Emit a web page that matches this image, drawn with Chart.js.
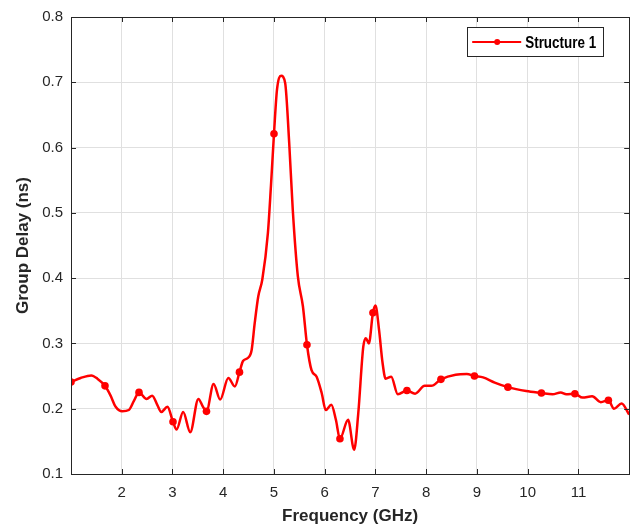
<!DOCTYPE html>
<html>
<head>
<meta charset="utf-8">
<script src="https://cdn.jsdelivr.net/npm/chart.js@4.4.1/dist/chart.umd.min.js"></script>
<style>
  html, body { margin: 0; padding: 0; background: #ffffff; }
  #wrap { width: 633px; height: 524px; position: relative; }
</style>
</head>
<body>
<div id="wrap"><canvas id="c"></canvas></div>
<script>
// ---- data ----
const seriesLabel = 'Structure 1';
const freq = [
  1.00, 1.19, 1.40, 1.52, 1.67, 1.78, 1.88, 2.01, 2.14, 2.24,
  2.34, 2.49, 2.60, 2.70, 2.78, 2.90, 3.01, 3.08, 3.21, 3.35,
  3.51, 3.60, 3.67, 3.81, 3.94, 4.10, 4.23, 4.32, 4.39, 4.49,
  4.56, 4.62, 4.69, 4.77, 4.88, 4.94, 5.00, 5.06, 5.14, 5.22,
  5.30, 5.37, 5.47, 5.57, 5.65, 5.74, 5.84, 5.94, 6.02, 6.13,
  6.22, 6.30, 6.46, 6.58, 6.66, 6.76, 6.81, 6.87, 6.95, 7.00,
  7.07, 7.14, 7.20, 7.31, 7.44, 7.62, 7.78, 7.97, 8.10, 8.29,
  8.58, 8.80, 8.95, 9.12, 9.35, 9.61, 9.97, 10.27, 10.49, 10.65,
  10.76, 10.93, 11.08, 11.27, 11.44, 11.59, 11.70, 11.85, 12.00
];
const delay = [
  0.241, 0.247, 0.251, 0.246, 0.235, 0.220, 0.203, 0.196, 0.198, 0.212,
  0.225, 0.215, 0.220, 0.206, 0.195, 0.203, 0.180, 0.168, 0.195, 0.164,
  0.215, 0.203, 0.196, 0.238, 0.214, 0.247, 0.234, 0.256, 0.273, 0.278,
  0.290, 0.331, 0.372, 0.398, 0.469, 0.541, 0.621, 0.689, 0.710, 0.699,
  0.607, 0.505, 0.403, 0.357, 0.298, 0.259, 0.249, 0.224, 0.198, 0.206,
  0.183, 0.154, 0.183, 0.137, 0.192, 0.295, 0.308, 0.300, 0.347, 0.358,
  0.321, 0.270, 0.246, 0.249, 0.222, 0.228, 0.223, 0.235, 0.235, 0.245,
  0.252, 0.253, 0.250, 0.248, 0.240, 0.233, 0.227, 0.224, 0.222, 0.225,
  0.222, 0.223, 0.217, 0.219, 0.210, 0.213, 0.200, 0.208, 0.191
];
const markerFreq = [1.00, 1.67, 2.34, 3.01, 3.67, 4.32, 5.00, 5.65, 6.30, 6.95, 7.62, 8.29, 8.95, 9.61, 10.27, 10.93, 11.59];
const xTicks = [2, 3, 4, 5, 6, 7, 8, 9, 10, 11];
const yTicks = [0.1, 0.2, 0.3, 0.4, 0.5, 0.6, 0.7, 0.8];
const xTitle = 'Frequency (GHz)';
const yTitle = 'Group Delay (ns)';

// ---- chart ----
const RED = '#ff0000';
const AXIS = '#262626';
const GRID = '#e0e0e0';
const points = freq.map((f, i) => ({ x: f, y: delay[i] }));

const framePlugin = {
  id: 'frame',
  afterDatasetsDraw(chart) {
    const { ctx, chartArea: a, scales } = chart;
    ctx.save();
    ctx.strokeStyle = AXIS;
    ctx.lineWidth = 1;
    ctx.strokeRect(Math.round(a.left) + 0.5, Math.round(a.top) + 0.5,
                   Math.round(a.right - a.left), Math.round(a.bottom - a.top));
    const L = 5;
    ctx.beginPath();
    xTicks.forEach(v => {
      const px = Math.round(scales.x.getPixelForValue(v)) + 0.5;
      ctx.moveTo(px, a.bottom); ctx.lineTo(px, a.bottom - L);
      ctx.moveTo(px, a.top); ctx.lineTo(px, a.top + L);
    });
    yTicks.forEach(v => {
      const py = Math.round(scales.y.getPixelForValue(v)) + 0.5;
      ctx.moveTo(a.left, py); ctx.lineTo(a.left + L, py);
      ctx.moveTo(a.right, py); ctx.lineTo(a.right - L, py);
    });
    ctx.stroke();
    ctx.restore();
  }
};

const legendPlugin = {
  id: 'boxLegend',
  afterDraw(chart) {
    const { ctx, chartArea: a } = chart;
    const ds = chart.data.datasets[0];
    const right = a.right - 26, top = a.top + 10, w = 136, h = 29;
    const left = right - w;
    ctx.save();
    ctx.fillStyle = '#ffffff';
    ctx.fillRect(left, top, w, h);
    ctx.strokeStyle = AXIS;
    ctx.lineWidth = 1;
    ctx.strokeRect(Math.round(left) + 0.5, Math.round(top) + 0.5, w, h);
    const cy = top + h / 2 + 0.5;
    ctx.strokeStyle = RED;
    ctx.lineWidth = 2;
    ctx.beginPath();
    ctx.moveTo(left + 5, cy); ctx.lineTo(left + 54, cy);
    ctx.stroke();
    ctx.fillStyle = RED;
    ctx.beginPath();
    ctx.arc(left + 30, cy, 3, 0, Math.PI * 2);
    ctx.fill();
    ctx.fillStyle = '#000000';
    ctx.font = 'bold 17px "Liberation Sans", Arial, sans-serif';
    ctx.textBaseline = 'middle';
    ctx.textAlign = 'left';
    ctx.translate(left + 58, cy + 1);
    ctx.scale(0.79, 1);
    ctx.fillText(ds.label, 0, 0);
    ctx.restore();
  }
};

new Chart(document.getElementById('c'), {
  type: 'line',
  data: {
    datasets: [{
      label: seriesLabel,
      data: points,
      borderColor: RED,
      backgroundColor: RED,
      borderWidth: 2.5,
      cubicInterpolationMode: 'monotone',
      pointRadius: ctx => markerFreq.includes(freq[ctx.dataIndex]) ? 3.8 : 0,
      pointHoverRadius: 0,
      pointBorderWidth: 0,
      pointBackgroundColor: RED,
      fill: false
    }]
  },
  options: {
    responsive: true,
    maintainAspectRatio: false,
    animation: false,
    events: [],
    layout: { padding: { left: 0, right: 3, top: 15, bottom: 0 } },
    plugins: { legend: { display: false }, tooltip: { enabled: false } },
    scales: {
      x: {
        type: 'linear',
        min: 1, max: 12,
        afterBuildTicks: s => { s.ticks = xTicks.map(v => ({ value: v })); },
        afterFit: s => { s.height = 50; },
        grid: { color: GRID, lineWidth: 1, drawTicks: false },
        border: { display: false },
        ticks: {
          color: AXIS, padding: 10, maxRotation: 0, autoSkip: false,
          font: { family: '"Liberation Sans", Arial, sans-serif', size: 15 },
          callback: v => String(v)
        },
        title: {
          display: true, text: xTitle, color: AXIS,
          padding: { top: 0, bottom: -3 },
          font: { family: '"Liberation Sans", Arial, sans-serif', size: 17, weight: 'bold' }
        }
      },
      y: {
        type: 'linear',
        min: 0.1, max: 0.8,
        afterBuildTicks: s => { s.ticks = yTicks.map(v => ({ value: v })); },
        afterFit: s => { s.width = 71; },
        grid: { color: GRID, lineWidth: 1, drawTicks: false },
        border: { display: false },
        ticks: {
          color: AXIS, padding: 8, autoSkip: false,
          font: { family: '"Liberation Sans", Arial, sans-serif', size: 15 },
          callback: v => Number(v).toFixed(1)
        },
        title: {
          display: true, text: yTitle, color: AXIS,
          padding: { top: 13, bottom: 0 },
          font: { family: '"Liberation Sans", Arial, sans-serif', size: 17, weight: 'bold' }
        }
      }
    }
  },
  plugins: [framePlugin, legendPlugin]
});
</script>
</body>
</html>
